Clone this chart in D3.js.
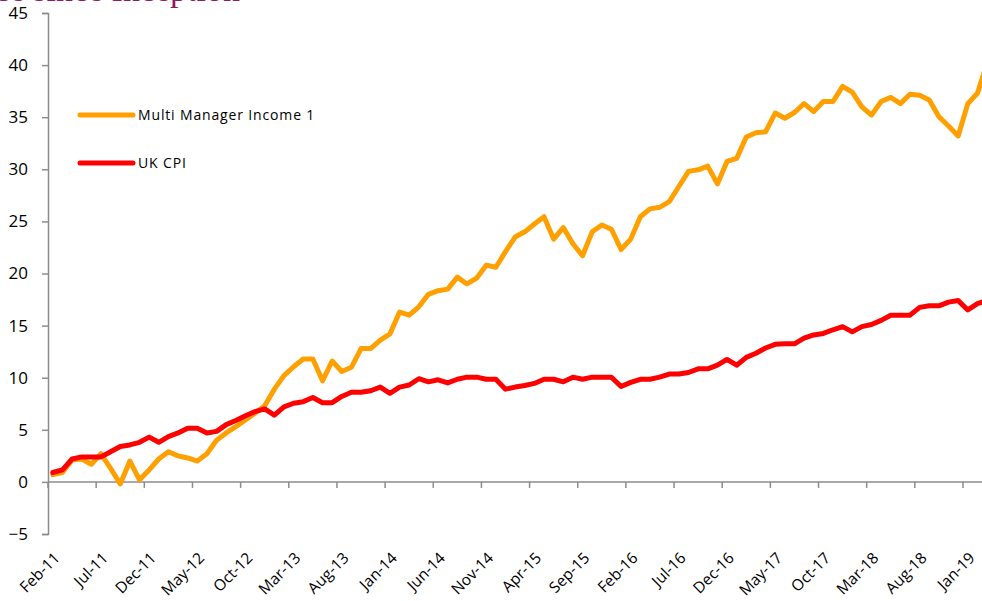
<!DOCTYPE html>
<html>
<head>
<meta charset="utf-8">
<script src="https://cdn.jsdelivr.net/npm/d3@7"></script>
<style>
  html, body { margin: 0; padding: 0; background: #fff; overflow: hidden; }
  #chart { width: 982px; height: 601px; }
  text { font-family: "Open Sans", sans-serif; }
</style>
</head>
<body>
<div id="chart"></div>
<script>
// Monthly categories, Feb-11 to Mar-19
const categories = [];
const monthNames = ['Jan','Feb','Mar','Apr','May','Jun','Jul','Aug','Sep','Oct','Nov','Dec'];
for (let y = 2011; y <= 2019; y++) {
  for (let m = 0; m < 12; m++) {
    if (y === 2011 && m < 1) continue;
    if (y === 2019 && m > 2) continue;
    categories.push(monthNames[m] + '-' + String(y).slice(2));
  }
}

// Labels shown on the x axis (every fifth month)
const tickLabels = ['Feb-11','Jul-11','Dec-11','May-12','Oct-12','Mar-13','Aug-13','Jan-14',
  'Jun-14','Nov-14','Apr-15','Sep-15','Feb-16','Jul-16','Dec-16','May-17','Oct-17',
  'Mar-18','Aug-18','Jan-19'];

const yTicks = [-5, 0, 5, 10, 15, 20, 25, 30, 35, 40, 45];

// Cumulative performance (%)
const mmiValues = [
  0.7, 0.9, 2.1, 2.2, 1.7, 2.7, 1.3, -0.2, 2.0, 0.2,
  1.15, 2.2, 2.9, 2.5, 2.3, 2.0, 2.7, 4.0, 4.7, 5.3,
  5.95, 6.6, 7.3, 8.9, 10.2, 11.05, 11.8, 11.8, 9.7, 11.6,
  10.6, 11.0, 12.8, 12.8, 13.6, 14.2, 16.3, 16.0, 16.8, 18.0,
  18.35, 18.5, 19.65, 19.0, 19.55, 20.8, 20.6, 22.1, 23.5, 24.0,
  24.75, 25.45, 23.3, 24.4, 22.85, 21.7, 24.0, 24.65, 24.25, 22.3,
  23.3, 25.45, 26.2, 26.35, 26.9, 28.35, 29.8, 29.95, 30.3, 28.6,
  30.75, 31.05, 33.1, 33.5, 33.6, 35.4, 34.9, 35.45, 36.3, 35.55,
  36.5, 36.5, 37.95, 37.4, 36.0, 35.2, 36.5, 36.9, 36.3, 37.2,
  37.1, 36.65, 35.05, 34.15, 33.2, 36.3, 37.3, 40.2
];

const cpiValues = [
  0.9, 1.15, 2.2, 2.4, 2.4, 2.4, 2.9, 3.4, 3.55, 3.8,
  4.3, 3.8, 4.35, 4.7, 5.15, 5.15, 4.7, 4.85, 5.5, 5.9,
  6.35, 6.75, 7.0, 6.4, 7.2, 7.55, 7.7, 8.1, 7.6, 7.6,
  8.2, 8.6, 8.6, 8.75, 9.1, 8.5, 9.1, 9.3, 9.9, 9.6,
  9.8, 9.5, 9.85, 10.05, 10.05, 9.85, 9.85, 8.9, 9.1, 9.25,
  9.45, 9.85, 9.85, 9.6, 10.05, 9.85, 10.05, 10.05, 10.05, 9.15,
  9.55, 9.85, 9.85, 10.05, 10.35, 10.35, 10.5, 10.85, 10.85, 11.2,
  11.75, 11.2, 11.95, 12.35, 12.85, 13.2, 13.25, 13.25, 13.8, 14.1,
  14.25, 14.6, 14.9, 14.4, 14.9, 15.1, 15.5, 16.0, 16.0, 16.0,
  16.75, 16.9, 16.9, 17.25, 17.4, 16.5, 17.1, 17.4
];

const seriesNames = ['Multi Manager Income 1', 'UK CPI'];
const seriesColors = ['#FFA000', '#FF0000'];

const width = 982, height = 601;
const svg = d3.select('#chart').append('svg')
  .attr('width', width)
  .attr('height', height);

// Scales
const step = (963 - 48) / 95;
const x = d3.scaleBand()
  .domain(categories)
  .range([48, 48 + step * categories.length])
  .padding(0);
const y = d3.scaleLinear().domain([-5, 45]).range([534, 13]);
const bw = x.bandwidth();
const axisColor = '#8c8c8c';

// Title (cut off at the top in the original)
svg.append('text')
  .attr('x', 240)
  .attr('y', 1)
  .attr('text-anchor', 'end')
  .style('font-family', '"Liberation Serif", "DejaVu Serif", serif')
  .style('font-size', '34px')
  .style('fill', '#8E1B5E')
  .text('Performance since Inception');

// Y axis
const yAxis = svg.append('g')
  .attr('transform', 'translate(48,0)')
  .call(d3.axisLeft(y).tickValues(yTicks).tickSize(6).tickPadding(13).tickFormat(d3.format('d')));
yAxis.select('.domain').attr('stroke', axisColor).attr('stroke-width', 1.5);
yAxis.selectAll('.tick line').attr('stroke', axisColor).attr('stroke-width', 1.5);
yAxis.selectAll('.tick text')
  .attr('x', -20)
  .style('font-size', '17px')
  .style('fill', '#000');

// X axis at zero
const xAxis = svg.append('g')
  .attr('transform', `translate(0,${y(0)})`)
  .call(d3.axisBottom(x).tickValues(tickLabels).tickSize(6).tickSizeOuter(0));
xAxis.select('.domain')
  .attr('d', `M48,0H${width}`)
  .attr('stroke', axisColor)
  .attr('stroke-width', 1.5);
xAxis.selectAll('.tick line')
  .attr('x1', -bw / 2).attr('x2', -bw / 2)
  .attr('stroke', axisColor).attr('stroke-width', 1.5);
// labels sit below the plot area
xAxis.selectAll('.tick text')
  .attr('y', 0)
  .attr('dy', 0)
  .attr('text-anchor', 'end')
  .attr('transform', `translate(8,${559 - y(0)}) rotate(-45)`)
  .style('font-size', '15.5px')
  .style('fill', '#000');

// Lines
const line = d3.line()
  .x((d, i) => x(categories[i]) + bw / 2)
  .y(d => y(d));

[mmiValues, cpiValues].forEach((vals, k) => {
  svg.append('path')
    .datum(vals)
    .attr('fill', 'none')
    .attr('stroke', seriesColors[k])
    .attr('stroke-width', 5)
    .attr('stroke-linejoin', 'round')
    .attr('stroke-linecap', 'round')
    .attr('d', line);
});

// Legend
const legendY = [115, 163];
seriesNames.forEach((name, k) => {
  const g = svg.append('g').attr('transform', `translate(80,${legendY[k]})`);
  g.append('line')
    .attr('x1', 0).attr('x2', 53)
    .attr('stroke', seriesColors[k])
    .attr('stroke-width', 5)
    .attr('stroke-linecap', 'round');
  g.append('text')
    .attr('x', 58)
    .attr('dy', '0.35em')
    .style('font-size', '14px')
    .style('letter-spacing', '0.85px')
    .style('fill', '#000')
    .text(name);
});
</script>
</body>
</html>
